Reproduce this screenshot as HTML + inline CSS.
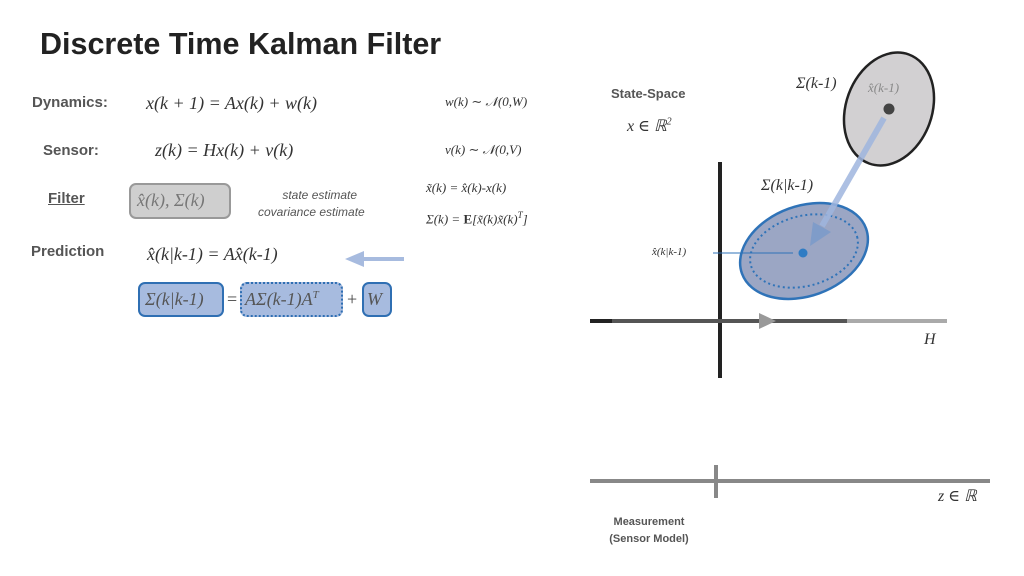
<!DOCTYPE html>
<html><head><meta charset="utf-8"><style>
body{margin:0;width:1024px;height:576px;background:#fff;position:relative;overflow:hidden;font-family:"Liberation Sans",sans-serif}
.a{position:absolute;white-space:nowrap}
.lbl{font-weight:bold;color:#555;font-size:15px}
.m{font-family:"Liberation Serif","DejaVu Serif",serif;font-style:italic;color:#333;font-size:18px}
.s{font-size:13px}
.box{position:absolute;border-radius:7px;box-sizing:border-box}
</style></head><body>
<div class="a" style="left:40px;top:27px;font-size:30.5px;font-weight:bold;color:#222">Discrete Time Kalman Filter</div>

<div class="a lbl" style="left:32px;top:94px">Dynamics:</div>
<div class="a m" style="left:146px;top:93px">x(k + 1) = Ax(k) + w(k)</div>
<div class="a m s" style="left:445px;top:94px">w(k) ∼ 𝒩(0,W)</div>

<div class="a lbl" style="left:43px;top:142px">Sensor:</div>
<div class="a m" style="left:155px;top:140px">z(k) = Hx(k) + v(k)</div>
<div class="a m s" style="left:445px;top:142px">v(k) ∼ 𝒩(0,V)</div>

<div class="a lbl" style="left:48px;top:190px;text-decoration:underline">Filter</div>
<div class="box" style="left:129px;top:183px;width:102px;height:36px;background:#cfcfcf;border:2px solid #999"></div>
<div class="a m" style="left:137px;top:190px;color:#777">x̂(k), Σ(k)</div>
<div class="a" style="left:258px;top:187px;font-size:12px;font-style:italic;color:#555;text-align:center;line-height:17px">&nbsp;&nbsp;&nbsp;&nbsp;&nbsp;state estimate<br>covariance estimate</div>
<div class="a m s" style="left:426px;top:180px">x̃(k) = x̂(k)-x(k)</div>
<div class="a m s" style="left:426px;top:210px">Σ(k) = <b style="font-style:normal">E</b>[x̃(k)x̃(k)<sup style="font-size:9px">T</sup>]</div>

<div class="a lbl" style="left:31px;top:243px">Prediction</div>
<div class="a m" style="left:147px;top:244px">x̂(k|k-1) = Ax̂(k-1)</div>

<div class="box" style="left:138px;top:282px;width:86px;height:35px;background:#a7bbdf;border:2.5px solid #2f6fb3"></div>
<div class="box" style="left:240px;top:282px;width:103px;height:35px;background:#a7bbdf;border:2.5px dotted #2f6fb3"></div>
<div class="box" style="left:362px;top:282px;width:30px;height:35px;background:#a7bbdf;border:2.5px solid #2f6fb3"></div>
<div class="a m" style="left:145px;top:289px;color:#555">Σ(k|k-1)</div>
<div class="a m" style="left:227px;top:289px;color:#444;font-style:normal">=</div>
<div class="a m" style="left:245px;top:289px;color:#555">AΣ(k-1)A<sup style="font-size:11px">T</sup></div>
<div class="a m" style="left:347px;top:289px;color:#444;font-style:normal">+</div>
<div class="a m" style="left:367px;top:289px;color:#555">W</div>

<svg class="a" style="left:0;top:0" width="1024" height="576">
<polygon points="404,257 364,257 364,251 345,259 364,267 364,261 404,261" fill="#a7bbdf"/>
<line x1="720" y1="162" x2="720" y2="378" stroke="#222" stroke-width="4"/>
<line x1="590" y1="321" x2="612" y2="321" stroke="#222" stroke-width="4"/>
<line x1="612" y1="321" x2="847" y2="321" stroke="#555" stroke-width="4"/>
<line x1="847" y1="321" x2="947" y2="321" stroke="#aaa" stroke-width="4"/>
<polygon points="759,313 776,321 759,329" fill="#999"/>
<ellipse cx="889" cy="109" rx="43" ry="58" transform="rotate(20 889 109)" fill="#d2d0d2" stroke="#222" stroke-width="2.5"/>
<circle cx="889" cy="109" r="5.5" fill="#444"/>
<ellipse cx="804" cy="251" rx="66" ry="45" transform="rotate(-20 804 251)" fill="#9ba6c4" stroke="#2f73b8" stroke-width="2.5"/>
<ellipse cx="804" cy="251" rx="55" ry="35" transform="rotate(-15 804 251)" fill="none" stroke="#2f73b8" stroke-width="2" stroke-dasharray="2,3"/>
<line x1="884" y1="118" x2="822" y2="226" stroke="#9fb5de" stroke-opacity="0.85" stroke-width="6"/>
<polygon points="810,246 813,222 831,232" fill="#7f9cc9"/>
<line x1="713" y1="253" x2="793" y2="253" stroke="#2f73b8" stroke-width="1"/>
<circle cx="803" cy="253" r="4.5" fill="#2f7cc4"/>
<line x1="590" y1="481" x2="990" y2="481" stroke="#888" stroke-width="4"/>
<line x1="716" y1="465" x2="716" y2="498" stroke="#888" stroke-width="4"/>
</svg>

<div class="a lbl" style="left:611px;top:86px;font-size:13px">State-Space</div>
<div class="a m" style="left:627px;top:116px;font-size:16px">x ∈ ℝ<sup style="font-size:10px">2</sup></div>
<div class="a m" style="left:796px;top:75px;font-size:16px">Σ(k-1)</div>
<div class="a m s" style="left:868px;top:80px;color:#888">x̂(k-1)</div>
<div class="a m" style="left:761px;top:177px;font-size:16px">Σ(k|k-1)</div>
<div class="a m" style="left:652px;top:246px;font-size:11px">x̂(k|k-1)</div>
<div class="a m" style="left:924px;top:331px;font-size:16px">H</div>
<div class="a m" style="left:938px;top:486px;font-size:16px">z ∈ ℝ</div>
<div class="a lbl" style="left:579px;top:514px;width:140px;font-size:11px;text-align:center;line-height:17px">Measurement<br>(Sensor Model)</div>
</body></html>
